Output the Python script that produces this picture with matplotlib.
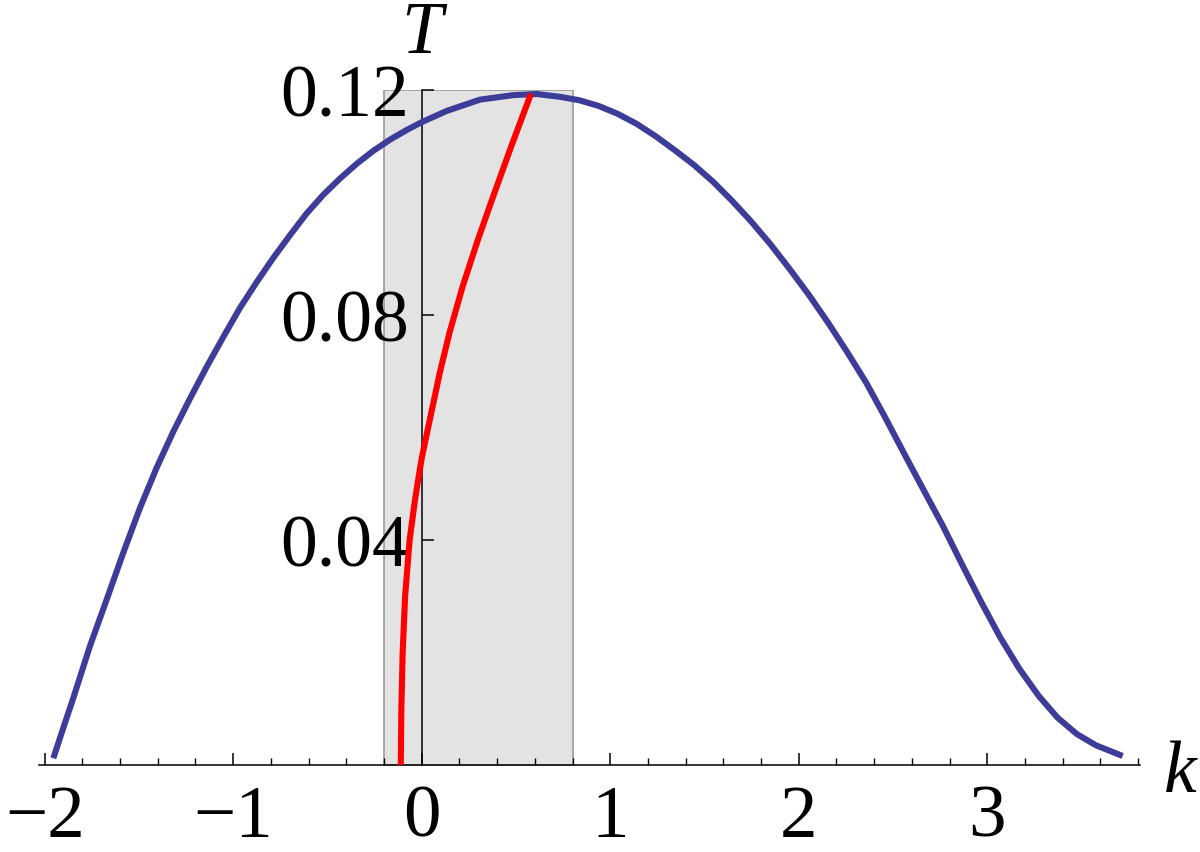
import numpy as np
import matplotlib
matplotlib.use('Agg')
import matplotlib.pyplot as plt

# curva azul T(k)
k_azul = [-1.954, -1.901, -1.848, -1.760, -1.671, -1.583, -1.494, -1.406,
          -1.318, -1.229, -1.141, -1.053, -0.964, -0.875, -0.787, -0.699,
          -0.610, -0.522, -0.433, -0.345, -0.257, -0.168, -0.080, 0.0,
          0.133, 0.309, 0.486, 0.610, 0.734, 0.835, 0.937, 1.038, 1.140,
          1.241, 1.343, 1.444, 1.546, 1.647, 1.749, 1.850, 1.952, 2.054,
          2.155, 2.256, 2.358, 2.459, 2.561, 2.663, 2.764, 2.865, 2.967,
          3.068, 3.170, 3.272, 3.373, 3.475, 3.576, 3.718]
T_azul = [0.0012, 0.0066, 0.0119, 0.0211, 0.0294, 0.0377, 0.0457, 0.0528,
          0.0592, 0.0651, 0.0707, 0.0760, 0.0812, 0.0858, 0.0901, 0.0941,
          0.0980, 0.1013, 0.1042, 0.1068, 0.1091, 0.1111, 0.1128, 0.1142,
          0.1162, 0.1182, 0.1190, 0.1192, 0.1187, 0.1181, 0.1171, 0.1157,
          0.1139, 0.1117, 0.1092, 0.1066, 0.1036, 0.1002, 0.0965, 0.0925,
          0.0881, 0.0835, 0.0786, 0.0734, 0.0679, 0.0617, 0.0552, 0.0488,
          0.0425, 0.0357, 0.0290, 0.0227, 0.0171, 0.0123, 0.0084, 0.0055,
          0.0035, 0.0016]

# curva roja
k_roja = [-0.111, -0.108, -0.101, -0.088, -0.064, -0.036, -0.022, 0.0,
          0.044, 0.098, 0.149, 0.217, 0.299, 0.379, 0.476, 0.579]
T_roja = [0.000, 0.010, 0.020, 0.030, 0.040, 0.047, 0.050, 0.0545,
          0.0615, 0.070, 0.077, 0.085, 0.0934, 0.101, 0.110, 0.1192]

# banda gris
banda_k = [-0.2, 0.8]
banda_T = [0.0, 0.12]

xticks = [-2, -1, 0, 1, 2, 3]
yticks = [0.04, 0.08, 0.12]
yticklabels = ['0.04', '0.08', '0.12']

plt.rcParams['font.family'] = ['Liberation Serif', 'DejaVu Serif']

fig = plt.figure(figsize=(12, 8.53), dpi=100)
ax = fig.add_axes([0.0325, 0.102, 0.9175, 0.7919])

ax.fill_between(banda_k, banda_T[0], banda_T[1], facecolor='#e3e3e3',
                edgecolor='#9a9a9a', linewidth=1.2, zorder=1)

ax.plot(k_azul, T_azul, color='#3d3d99', lw=4.4, zorder=3, clip_on=False,
        solid_capstyle='butt', solid_joinstyle='round')
ax.plot(k_roja, T_roja, color='#ff0000', lw=4.4, zorder=4, clip_on=False,
        solid_capstyle='butt', solid_joinstyle='round')

ax.set_xlim(-2.03, 3.81)
ax.set_ylim(0, 0.12)

for s in ['top', 'right']:
    ax.spines[s].set_visible(False)
ax.spines['left'].set_position(('data', 0))
ax.spines['bottom'].set_position(('data', 0))
ax.spines['left'].set_linewidth(1.1)
ax.spines['bottom'].set_linewidth(1.1)

ax.set_xticks(xticks)
ax.set_xticks(np.arange(-2, 3.81, 0.2), minor=True)
ax.set_yticks(yticks)
ax.set_yticklabels(yticklabels)

ax.tick_params(axis='x', which='major', direction='in', length=8.3, width=1.1,
               labelsize=54, pad=14)
ax.tick_params(axis='x', which='minor', direction='in', length=4.8, width=1.0)
ax.tick_params(axis='y', which='major', direction='in', length=8.3, width=1.1,
               labelsize=53, pad=9)

ax.annotate('T', xy=(0, 0.12), xytext=(0, 27), textcoords='offset points',
            ha='center', va='baseline', fontsize=53, fontstyle='italic',
            annotation_clip=False)
ax.annotate('k', xy=(1, 0), xycoords='axes fraction', xytext=(17, -19),
            textcoords='offset points', ha='left', va='baseline',
            fontsize=53, fontstyle='italic', annotation_clip=False)

fig.savefig('out.png', dpi=100)
